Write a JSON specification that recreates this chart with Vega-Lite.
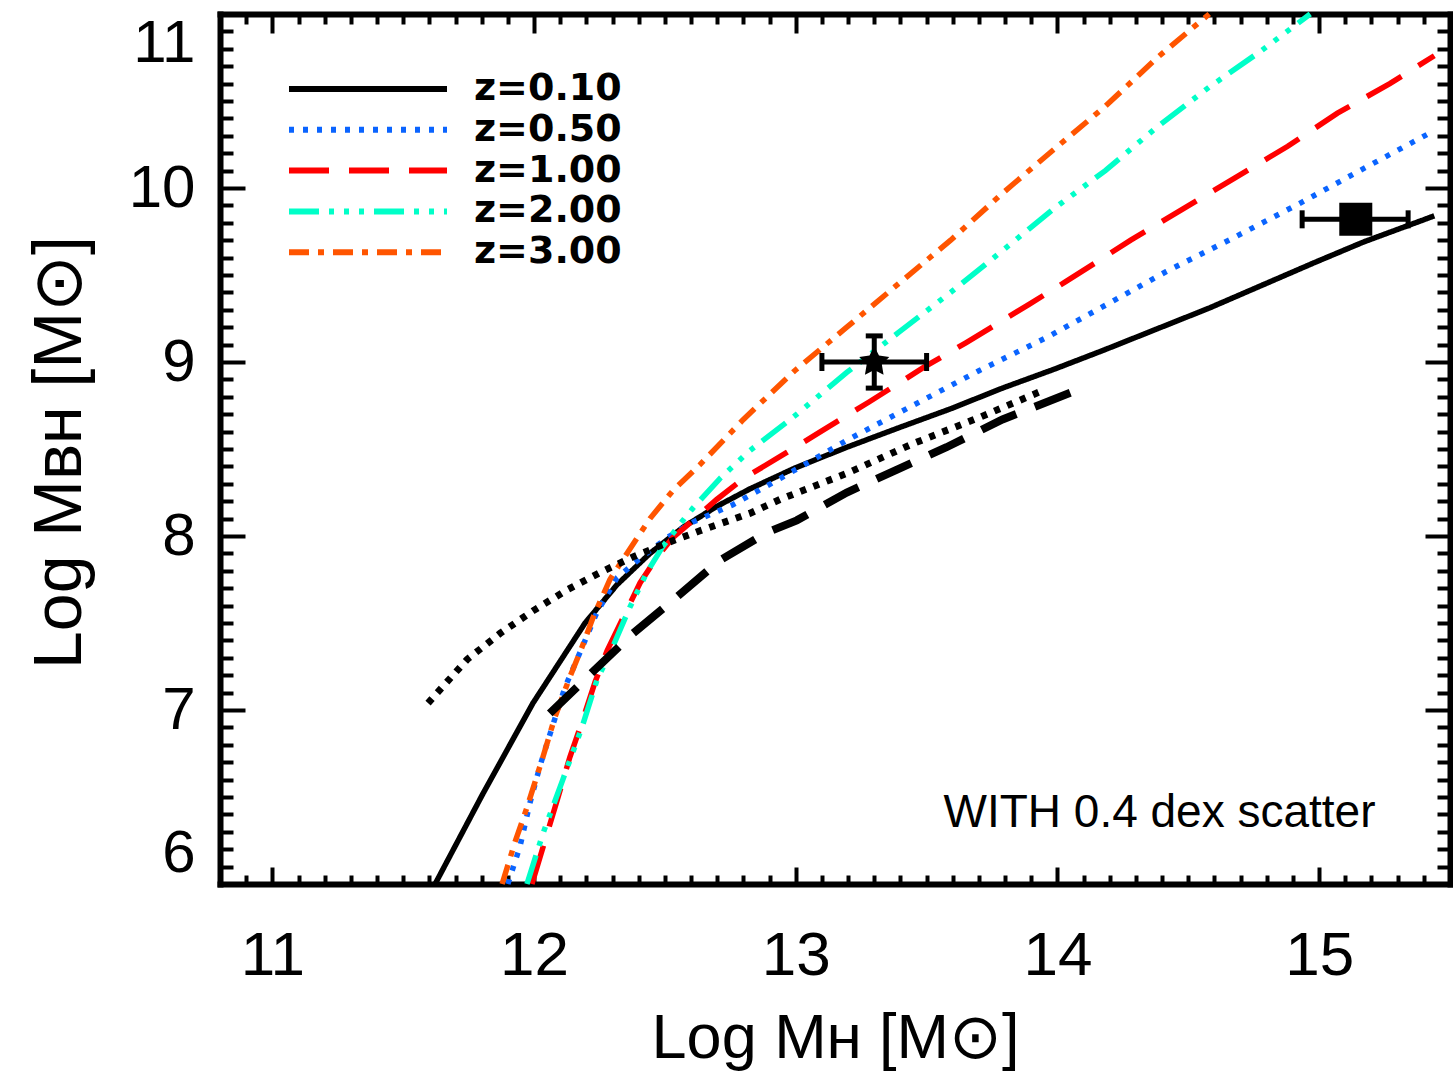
{
  "$schema": "https://vega.github.io/schema/vega-lite/v6.json",
  "width": 1230,
  "height": 870,
  "autosize": {"type": "none"},
  "padding": {"left": 220, "top": 14, "right": 3, "bottom": 191},
  "background": "white",
  "config": {
    "view": {"stroke": null},
    "axis": {
      "grid": false,
      "domainColor": "black",
      "tickColor": "black",
      "labelColor": "black",
      "titleColor": "black",
      "domainWidth": 6,
      "domainCap": "square",
      "tickWidth": 4,
      "labelFont": "Liberation Sans",
      "titleFont": "Liberation Sans",
      "titleFontWeight": "normal"
    }
  },
  "datasets": {
    "curves": [
      {"z": "z=0.10", "x": 11.622, "y": 6.0}, {"z": "z=0.10", "x": 11.805, "y": 6.52}, {"z": "z=0.10", "x": 11.996, "y": 7.04},
      {"z": "z=0.10", "x": 12.195, "y": 7.5}, {"z": "z=0.10", "x": 12.317, "y": 7.72}, {"z": "z=0.10", "x": 12.443, "y": 7.9},
      {"z": "z=0.10", "x": 12.569, "y": 8.05}, {"z": "z=0.10", "x": 12.698, "y": 8.17}, {"z": "z=0.10", "x": 12.824, "y": 8.27},
      {"z": "z=0.10", "x": 12.996, "y": 8.39}, {"z": "z=0.10", "x": 13.195, "y": 8.51}, {"z": "z=0.10", "x": 13.39, "y": 8.62},
      {"z": "z=0.10", "x": 13.59, "y": 8.73}, {"z": "z=0.10", "x": 13.79, "y": 8.85}, {"z": "z=0.10", "x": 13.99, "y": 8.96},
      {"z": "z=0.10", "x": 14.18, "y": 9.07}, {"z": "z=0.10", "x": 14.38, "y": 9.19}, {"z": "z=0.10", "x": 14.58, "y": 9.31},
      {"z": "z=0.10", "x": 14.78, "y": 9.44}, {"z": "z=0.10", "x": 14.98, "y": 9.57}, {"z": "z=0.10", "x": 15.17, "y": 9.69},
      {"z": "z=0.10", "x": 15.44, "y": 9.84},

      {"z": "z=0.50", "x": 11.9, "y": 6.0}, {"z": "z=0.50", "x": 11.947, "y": 6.22}, {"z": "z=0.50", "x": 11.985, "y": 6.47},
      {"z": "z=0.50", "x": 12.023, "y": 6.68}, {"z": "z=0.50", "x": 12.069, "y": 6.9}, {"z": "z=0.50", "x": 12.118, "y": 7.13},
      {"z": "z=0.50", "x": 12.164, "y": 7.29}, {"z": "z=0.50", "x": 12.24, "y": 7.56}, {"z": "z=0.50", "x": 12.317, "y": 7.76},
      {"z": "z=0.50", "x": 12.405, "y": 7.87}, {"z": "z=0.50", "x": 12.508, "y": 7.99}, {"z": "z=0.50", "x": 12.607, "y": 8.08},
      {"z": "z=0.50", "x": 12.76, "y": 8.18}, {"z": "z=0.50", "x": 12.94, "y": 8.33}, {"z": "z=0.50", "x": 13.195, "y": 8.55},
      {"z": "z=0.50", "x": 13.447, "y": 8.75}, {"z": "z=0.50", "x": 13.7, "y": 8.95}, {"z": "z=0.50", "x": 13.958, "y": 9.14},
      {"z": "z=0.50", "x": 14.2, "y": 9.34}, {"z": "z=0.50", "x": 14.416, "y": 9.52}, {"z": "z=0.50", "x": 14.668, "y": 9.71},
      {"z": "z=0.50", "x": 14.924, "y": 9.91}, {"z": "z=0.50", "x": 15.18, "y": 10.12}, {"z": "z=0.50", "x": 15.44, "y": 10.33},

      {"z": "z=1.00", "x": 11.992, "y": 6.0}, {"z": "z=1.00", "x": 12.034, "y": 6.21}, {"z": "z=1.00", "x": 12.088, "y": 6.48},
      {"z": "z=1.00", "x": 12.137, "y": 6.73}, {"z": "z=1.00", "x": 12.183, "y": 6.93}, {"z": "z=1.00", "x": 12.233, "y": 7.16},
      {"z": "z=1.00", "x": 12.279, "y": 7.34}, {"z": "z=1.00", "x": 12.34, "y": 7.53}, {"z": "z=1.00", "x": 12.405, "y": 7.73},
      {"z": "z=1.00", "x": 12.47, "y": 7.88}, {"z": "z=1.00", "x": 12.53, "y": 7.99}, {"z": "z=1.00", "x": 12.607, "y": 8.09},
      {"z": "z=1.00", "x": 12.698, "y": 8.21}, {"z": "z=1.00", "x": 12.8, "y": 8.33}, {"z": "z=1.00", "x": 12.966, "y": 8.48},
      {"z": "z=1.00", "x": 13.095, "y": 8.6}, {"z": "z=1.00", "x": 13.28, "y": 8.77}, {"z": "z=1.00", "x": 13.49, "y": 8.97},
      {"z": "z=1.00", "x": 13.65, "y": 9.11}, {"z": "z=1.00", "x": 13.89, "y": 9.33}, {"z": "z=1.00", "x": 14.03, "y": 9.46},
      {"z": "z=1.00", "x": 14.28, "y": 9.7}, {"z": "z=1.00", "x": 14.48, "y": 9.88}, {"z": "z=1.00", "x": 14.68, "y": 10.06},
      {"z": "z=1.00", "x": 14.88, "y": 10.24}, {"z": "z=1.00", "x": 15.07, "y": 10.43}, {"z": "z=1.00", "x": 15.27, "y": 10.6},
      {"z": "z=1.00", "x": 15.44, "y": 10.76},

      {"z": "z=2.00", "x": 11.973, "y": 6.0}, {"z": "z=2.00", "x": 12.034, "y": 6.29}, {"z": "z=2.00", "x": 12.11, "y": 6.6},
      {"z": "z=2.00", "x": 12.183, "y": 6.9}, {"z": "z=2.00", "x": 12.24, "y": 7.17}, {"z": "z=2.00", "x": 12.3, "y": 7.36},
      {"z": "z=2.00", "x": 12.366, "y": 7.59}, {"z": "z=2.00", "x": 12.431, "y": 7.79}, {"z": "z=2.00", "x": 12.492, "y": 7.94},
      {"z": "z=2.00", "x": 12.569, "y": 8.09}, {"z": "z=2.00", "x": 12.607, "y": 8.16}, {"z": "z=2.00", "x": 12.71, "y": 8.33},
      {"z": "z=2.00", "x": 12.824, "y": 8.49}, {"z": "z=2.00", "x": 12.996, "y": 8.69}, {"z": "z=2.00", "x": 13.195, "y": 8.94},
      {"z": "z=2.00", "x": 13.393, "y": 9.17}, {"z": "z=2.00", "x": 13.592, "y": 9.4}, {"z": "z=2.00", "x": 13.79, "y": 9.64},
      {"z": "z=2.00", "x": 13.985, "y": 9.88}, {"z": "z=2.00", "x": 14.183, "y": 10.1}, {"z": "z=2.00", "x": 14.38, "y": 10.35},
      {"z": "z=2.00", "x": 14.58, "y": 10.58}, {"z": "z=2.00", "x": 14.78, "y": 10.79}, {"z": "z=2.00", "x": 14.966, "y": 11.0},

      {"z": "z=3.00", "x": 11.878, "y": 6.0}, {"z": "z=3.00", "x": 11.927, "y": 6.24}, {"z": "z=3.00", "x": 11.973, "y": 6.44},
      {"z": "z=3.00", "x": 12.034, "y": 6.73}, {"z": "z=3.00", "x": 12.08, "y": 6.96}, {"z": "z=3.00", "x": 12.137, "y": 7.19},
      {"z": "z=3.00", "x": 12.183, "y": 7.36}, {"z": "z=3.00", "x": 12.225, "y": 7.53}, {"z": "z=3.00", "x": 12.29, "y": 7.75},
      {"z": "z=3.00", "x": 12.355, "y": 7.9}, {"z": "z=3.00", "x": 12.443, "y": 8.1}, {"z": "z=3.00", "x": 12.53, "y": 8.26},
      {"z": "z=3.00", "x": 12.634, "y": 8.41}, {"z": "z=3.00", "x": 12.8, "y": 8.67}, {"z": "z=3.00", "x": 12.996, "y": 8.95},
      {"z": "z=3.00", "x": 13.195, "y": 9.2}, {"z": "z=3.00", "x": 13.393, "y": 9.45}, {"z": "z=3.00", "x": 13.592, "y": 9.7},
      {"z": "z=3.00", "x": 13.79, "y": 9.97}, {"z": "z=3.00", "x": 13.985, "y": 10.22}, {"z": "z=3.00", "x": 14.183, "y": 10.47},
      {"z": "z=3.00", "x": 14.382, "y": 10.75}, {"z": "z=3.00", "x": 14.58, "y": 11.0}
    ],
    "extra": [
      {"kind": "dotted", "x": 11.595, "y": 7.04}, {"kind": "dotted", "x": 11.744, "y": 7.29}, {"kind": "dotted", "x": 11.87, "y": 7.44},
      {"kind": "dotted", "x": 11.996, "y": 7.57}, {"kind": "dotted", "x": 12.126, "y": 7.69}, {"kind": "dotted", "x": 12.252, "y": 7.79},
      {"kind": "dotted", "x": 12.378, "y": 7.88}, {"kind": "dotted", "x": 12.508, "y": 7.96}, {"kind": "dotted", "x": 12.634, "y": 8.03},
      {"kind": "dotted", "x": 12.824, "y": 8.13}, {"kind": "dotted", "x": 12.94, "y": 8.21}, {"kind": "dotted", "x": 13.195, "y": 8.36},
      {"kind": "dotted", "x": 13.447, "y": 8.53}, {"kind": "dotted", "x": 13.7, "y": 8.68}, {"kind": "dotted", "x": 13.95, "y": 8.84},
      {"kind": "dashed", "x": 12.06, "y": 6.98}, {"kind": "dashed", "x": 12.225, "y": 7.22}, {"kind": "dashed", "x": 12.378, "y": 7.44},
      {"kind": "dashed", "x": 12.546, "y": 7.65}, {"kind": "dashed", "x": 12.71, "y": 7.86}, {"kind": "dashed", "x": 12.89, "y": 8.02},
      {"kind": "dashed", "x": 13.004, "y": 8.09}, {"kind": "dashed", "x": 13.195, "y": 8.25}, {"kind": "dashed", "x": 13.385, "y": 8.38},
      {"kind": "dashed", "x": 13.576, "y": 8.51}, {"kind": "dashed", "x": 13.79, "y": 8.67}, {"kind": "dashed", "x": 14.06, "y": 8.83}
    ],
    "points": [
      {"kind": "star", "x": 13.3, "y": 9.0, "xlo": 13.1, "xhi": 13.5, "ylo": 8.85, "yhi": 9.15},
      {"kind": "square", "x": 15.14, "y": 9.82, "xlo": 14.935, "xhi": 15.34}
    ],
    "note": [
      {"text": "WITH 0.4 dex scatter", "x": 14.39, "y": 6.33}
    ]
  },
  "resolve": {"axis": {"x": "independent", "y": "independent"}},
  "layer": [
    {
      "data": {"name": "curves"},
      "mark": {"type": "line", "strokeWidth": 5.5},
      "encoding": {
        "x": {"field": "x", "type": "quantitative", "scale": {"domain": [10.8, 15.5], "nice": false, "zero": false},
          "axis": {"orient": "bottom", "values": [11, 12, 13, 14, 15], "tickSize": -17, "labelFontSize": 62, "labelPadding": 58,
            "labelFlush": false, "labelOverlap": false, "title": "Log Mʜ [M⊙]", "titleFontSize": 63, "titleY": 173, "titleBaseline": "alphabetic"}},
        "y": {"field": "y", "type": "quantitative", "scale": {"domain": [6, 11], "nice": false, "zero": false},
          "axis": {"orient": "left", "values": [6, 7, 8, 9, 10, 11], "tickSize": -25, "labelFontSize": 60, "labelPadding": 50,
            "labelFlush": true, "labelOverlap": false, "title": "Log Mʙʜ [M⊙]", "titleFontSize": 68, "titleX": -140, "titleY": 438, "titleBaseline": "alphabetic"}},
        "color": {"field": "z", "type": "nominal",
          "scale": {"domain": ["z=0.10", "z=0.50", "z=1.00", "z=2.00", "z=3.00"], "range": ["#000000", "#0a64ff", "#ff0000", "#00ffc8", "#ff5500"]},
          "legend": {"title": null, "orient": "none", "legendX": 66, "legendY": 56, "symbolType": "stroke", "symbolSize": 24964,
            "symbolStrokeWidth": 6, "labelFontSize": 38, "labelFont": "DejaVu Sans", "labelFontWeight": "bold", "labelColor": "black",
            "labelOffset": 24, "clipHeight": 38, "rowPadding": 2.8}},
        "strokeDash": {"field": "z", "type": "nominal",
          "scale": {"domain": ["z=0.10", "z=0.50", "z=1.00", "z=2.00", "z=3.00"], "range": [[1, 0], [5, 9], [40, 20], [30, 10, 5, 10, 5, 10, 5, 10], [20, 9, 6, 9]]},
          "legend": {"title": null, "orient": "none", "legendX": 66, "legendY": 56, "symbolType": "stroke", "symbolSize": 24964,
            "symbolStrokeWidth": 6, "labelFontSize": 38, "labelFont": "DejaVu Sans", "labelFontWeight": "bold", "labelColor": "black",
            "labelOffset": 24, "clipHeight": 38, "rowPadding": 2.8}}
      }
    },
    {
      "data": {"name": "extra"},
      "transform": [{"filter": "datum.kind === 'dotted'"}],
      "mark": {"type": "line", "strokeWidth": 7, "color": "black", "strokeDash": [6, 8]},
      "encoding": {
        "x": {"field": "x", "type": "quantitative", "scale": {"domain": [10.8, 15.5], "nice": false, "zero": false},
          "axis": {"orient": "top", "values": [11, 12, 13, 14, 15], "tickSize": -19, "labels": false, "title": null}},
        "y": {"field": "y", "type": "quantitative", "scale": {"domain": [6, 11], "nice": false, "zero": false},
          "axis": {"orient": "right", "values": [6, 7, 8, 9, 10, 11], "tickSize": -25, "labels": false, "title": null}}
      }
    },
    {
      "data": {"name": "extra"},
      "transform": [{"filter": "datum.kind === 'dashed'"}],
      "mark": {"type": "line", "strokeWidth": 8, "color": "black", "strokeDash": [38, 20]},
      "encoding": {
        "x": {"field": "x", "type": "quantitative", "scale": {"domain": [10.8, 15.5], "nice": false, "zero": false},
          "axis": {"orient": "bottom", "values": [10.9, 11.1, 11.2, 11.3, 11.4, 11.5, 11.6, 11.7, 11.8, 11.9, 12.1, 12.2, 12.3, 12.4, 12.5, 12.6, 12.7, 12.8, 12.9, 13.1, 13.2, 13.3, 13.4, 13.5, 13.6, 13.7, 13.8, 13.9, 14.1, 14.2, 14.3, 14.4, 14.5, 14.6, 14.7, 14.8, 14.9, 15.1, 15.2, 15.3, 15.4],
            "tickSize": -9, "labels": false, "domain": false, "title": null}},
        "y": {"field": "y", "type": "quantitative", "scale": {"domain": [6, 11], "nice": false, "zero": false},
          "axis": {"orient": "left", "values": [6.1, 6.2, 6.3, 6.4, 6.5, 6.6, 6.7, 6.8, 6.9, 7.1, 7.2, 7.3, 7.4, 7.5, 7.6, 7.7, 7.8, 7.9, 8.1, 8.2, 8.3, 8.4, 8.5, 8.6, 8.7, 8.8, 8.9, 9.1, 9.2, 9.3, 9.4, 9.5, 9.6, 9.7, 9.8, 9.9, 10.1, 10.2, 10.3, 10.4, 10.5, 10.6, 10.7, 10.8, 10.9],
            "tickSize": -13, "labels": false, "domain": false, "title": null}}
      }
    },
    {
      "data": {"name": "points"},
      "mark": {"type": "rule", "strokeWidth": 5, "color": "black"},
      "encoding": {
        "x": {"field": "xlo", "type": "quantitative", "scale": {"domain": [10.8, 15.5], "nice": false, "zero": false},
          "axis": {"orient": "top", "values": [10.9, 11.1, 11.2, 11.3, 11.4, 11.5, 11.6, 11.7, 11.8, 11.9, 12.1, 12.2, 12.3, 12.4, 12.5, 12.6, 12.7, 12.8, 12.9, 13.1, 13.2, 13.3, 13.4, 13.5, 13.6, 13.7, 13.8, 13.9, 14.1, 14.2, 14.3, 14.4, 14.5, 14.6, 14.7, 14.8, 14.9, 15.1, 15.2, 15.3, 15.4],
            "tickSize": -10, "labels": false, "domain": false, "title": null}},
        "x2": {"field": "xhi"},
        "y": {"field": "y", "type": "quantitative", "scale": {"domain": [6, 11], "nice": false, "zero": false},
          "axis": {"orient": "right", "values": [6.1, 6.2, 6.3, 6.4, 6.5, 6.6, 6.7, 6.8, 6.9, 7.1, 7.2, 7.3, 7.4, 7.5, 7.6, 7.7, 7.8, 7.9, 8.1, 8.2, 8.3, 8.4, 8.5, 8.6, 8.7, 8.8, 8.9, 9.1, 9.2, 9.3, 9.4, 9.5, 9.6, 9.7, 9.8, 9.9, 10.1, 10.2, 10.3, 10.4, 10.5, 10.6, 10.7, 10.8, 10.9],
            "tickSize": -13, "labels": false, "domain": false, "title": null}}
      }
    },
    {
      "data": {"name": "points"},
      "transform": [{"filter": "datum.kind === 'star'"}],
      "mark": {"type": "rule", "strokeWidth": 5, "color": "black"},
      "encoding": {
        "x": {"field": "x", "type": "quantitative", "scale": {"domain": [10.8, 15.5], "nice": false, "zero": false}, "axis": null},
        "y": {"field": "ylo", "type": "quantitative", "scale": {"domain": [6, 11], "nice": false, "zero": false}, "axis": null},
        "y2": {"field": "yhi"}
      }
    },
    {
      "data": {"name": "points"},
      "mark": {"type": "tick", "orient": "vertical", "size": 18, "thickness": 5, "color": "black", "opacity": 1},
      "encoding": {
        "x": {"field": "xlo", "type": "quantitative", "scale": {"domain": [10.8, 15.5], "nice": false, "zero": false}, "axis": null},
        "y": {"field": "y", "type": "quantitative", "scale": {"domain": [6, 11], "nice": false, "zero": false}, "axis": null}
      }
    },
    {
      "data": {"name": "points"},
      "mark": {"type": "tick", "orient": "vertical", "size": 18, "thickness": 5, "color": "black", "opacity": 1},
      "encoding": {
        "x": {"field": "xhi", "type": "quantitative", "scale": {"domain": [10.8, 15.5], "nice": false, "zero": false}, "axis": null},
        "y": {"field": "y", "type": "quantitative", "scale": {"domain": [6, 11], "nice": false, "zero": false}, "axis": null}
      }
    },
    {
      "data": {"name": "points"},
      "transform": [{"filter": "datum.kind === 'star'"}],
      "mark": {"type": "tick", "orient": "horizontal", "size": 17, "thickness": 5, "color": "black", "opacity": 1},
      "encoding": {
        "x": {"field": "x", "type": "quantitative", "scale": {"domain": [10.8, 15.5], "nice": false, "zero": false}, "axis": null},
        "y": {"field": "ylo", "type": "quantitative", "scale": {"domain": [6, 11], "nice": false, "zero": false}, "axis": null}
      }
    },
    {
      "data": {"name": "points"},
      "transform": [{"filter": "datum.kind === 'star'"}],
      "mark": {"type": "tick", "orient": "horizontal", "size": 17, "thickness": 5, "color": "black", "opacity": 1},
      "encoding": {
        "x": {"field": "x", "type": "quantitative", "scale": {"domain": [10.8, 15.5], "nice": false, "zero": false}, "axis": null},
        "y": {"field": "yhi", "type": "quantitative", "scale": {"domain": [6, 11], "nice": false, "zero": false}, "axis": null}
      }
    },
    {
      "data": {"name": "points"},
      "transform": [{"filter": "datum.kind === 'star'"}],
      "mark": {"type": "point", "shape": "M0,-1L0.3,-0.41L0.951,-0.309L0.48,0.156L0.588,0.809L0,0.5L-0.588,0.809L-0.48,0.156L-0.951,-0.309L-0.3,-0.41Z", "filled": true, "size": 1000, "color": "black", "opacity": 1},
      "encoding": {
        "x": {"field": "x", "type": "quantitative", "scale": {"domain": [10.8, 15.5], "nice": false, "zero": false}, "axis": null},
        "y": {"field": "y", "type": "quantitative", "scale": {"domain": [6, 11], "nice": false, "zero": false}, "axis": null}
      }
    },
    {
      "data": {"name": "points"},
      "transform": [{"filter": "datum.kind === 'square'"}],
      "mark": {"type": "point", "shape": "square", "filled": true, "size": 1089, "color": "black", "opacity": 1},
      "encoding": {
        "x": {"field": "x", "type": "quantitative", "scale": {"domain": [10.8, 15.5], "nice": false, "zero": false}, "axis": null},
        "y": {"field": "y", "type": "quantitative", "scale": {"domain": [6, 11], "nice": false, "zero": false}, "axis": null}
      }
    },
    {
      "data": {"name": "note"},
      "mark": {"type": "text", "font": "Liberation Sans", "fontSize": 46, "align": "center", "baseline": "alphabetic", "color": "black"},
      "encoding": {
        "x": {"field": "x", "type": "quantitative", "scale": {"domain": [10.8, 15.5], "nice": false, "zero": false}, "axis": null},
        "y": {"field": "y", "type": "quantitative", "scale": {"domain": [6, 11], "nice": false, "zero": false}, "axis": null},
        "text": {"field": "text"}
      }
    }
  ]
}
